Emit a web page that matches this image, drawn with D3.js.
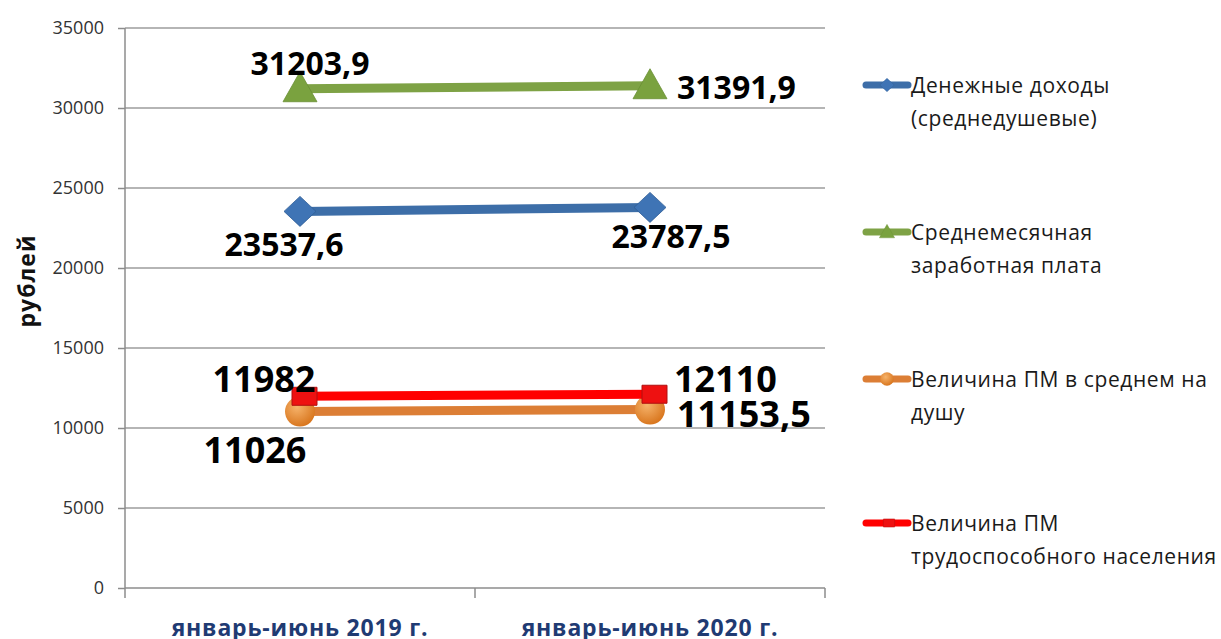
<!DOCTYPE html>
<html>
<head>
<meta charset="utf-8">
<script src="https://cdn.jsdelivr.net/npm/d3@7"></script>
<style>
  body { margin: 0; background: #fff; }
  svg { display: block; font-family: "Open Sans", sans-serif; }
</style>
</head>
<body>
<svg width="1221" height="639"></svg>
<script>
// categories on the x axis
const categories = ["январь-июнь 2019 г.", "январь-июнь 2020 г."];

// series values (рублей)
const incomeValues = [23537.6, 23787.5];
const wageValues = [31203.9, 31391.9];
const pmAvgValues = [11026, 11153.5];
const pmWorkValues = [11982, 12110];

// labels as printed on the chart
const incomeLabels = ["23537,6", "23787,5"];
const wageLabels = ["31203,9", "31391,9"];
const pmAvgLabels = ["11026", "11153,5"];
const pmWorkLabels = ["11982", "12110"];

const seriesNames = [
  ["Денежные доходы", "(среднедушевые)"],
  ["Среднемесячная", "заработная плата"],
  ["Величина ПМ в среднем на", "душу"],
  ["Величина ПМ", "трудоспособного населения"],
];

const yTicks = [0, 5000, 10000, 15000, 20000, 25000, 30000, 35000];

// drawing styles per series
const series = [
  { name: seriesNames[0], values: incomeValues, labels: incomeLabels, color: "#3d6ea8", marker: "diamond", fontSize: 32,
    labelPos: [{ dx: -16, dy: 32, anchor: "middle" }, { dx: 21, dy: 28, anchor: "middle" }] },
  { name: seriesNames[1], values: wageValues, labels: wageLabels, color: "#7ea245", marker: "triangle", fontSize: 32,
    labelPos: [{ dx: 10, dy: -26, anchor: "middle" }, { dx: 27, dy: 1, anchor: "start" }] },
  { name: seriesNames[2], values: pmAvgValues, labels: pmAvgLabels, color: "#dc7e35", marker: "circle", fontSize: 36,
    labelPos: [{ dx: -45, dy: 38, anchor: "middle" }, { dx: 27, dy: 4, anchor: "start" }] },
  { name: seriesNames[3], values: pmWorkValues, labels: pmWorkLabels, color: "#ff0000", marker: "square", fontSize: 36,
    labelPos: [{ dx: -36, dy: -18, anchor: "middle" }, { dx: 24, dy: -16, anchor: "start" }] },
];

const plot = { left: 125, right: 825, top: 28, bottom: 588 };

const svg = d3.select("svg");

const xScale = d3.scaleBand().domain(categories).range([plot.left, plot.right]).padding(0);
const xc = (i) => xScale(categories[i]) + xScale.bandwidth() / 2;
const yScale = d3.scaleLinear().domain([0, 35000]).range([plot.bottom, plot.top]);

// gradient for the round markers
const defs = svg.append("defs");
const orangeGrad = defs.append("radialGradient").attr("id", "orangeGrad")
  .attr("cx", "40%").attr("cy", "35%").attr("r", "65%");
orangeGrad.append("stop").attr("offset", "0%").attr("stop-color", "#f6b36b");
orangeGrad.append("stop").attr("offset", "100%").attr("stop-color", "#d9771f");

// gridlines
svg.append("g")
  .selectAll("line")
  .data(yTicks.filter((t) => t > 0))
  .enter()
  .append("line")
  .attr("x1", plot.left)
  .attr("x2", plot.right)
  .attr("y1", (d) => yScale(d))
  .attr("y2", (d) => yScale(d))
  .attr("stroke", "#9c9c9c")
  .attr("stroke-width", 1.5);

// y axis
const yAxis = d3.axisLeft(yScale).tickValues(yTicks).tickSize(7).tickPadding(14).tickFormat(d3.format("d"));
const yG = svg.append("g").attr("transform", `translate(${plot.left},0)`).call(yAxis);
yG.select(".domain").remove();
yG.selectAll(".tick line").attr("stroke", "#8c8c8c").attr("stroke-width", 1.5);
yG.selectAll(".tick text").attr("font-size", 18).attr("fill", "#333")
  .attr("font-family", "Open Sans, sans-serif");
svg.append("line")
  .attr("x1", plot.left).attr("x2", plot.left)
  .attr("y1", plot.top).attr("y2", plot.bottom + 10)
  .attr("stroke", "#8c8c8c").attr("stroke-width", 1.5);

// x axis
svg.append("line")
  .attr("x1", plot.left).attr("x2", plot.right)
  .attr("y1", plot.bottom).attr("y2", plot.bottom)
  .attr("stroke", "#8c8c8c").attr("stroke-width", 1.5);
svg.append("g")
  .selectAll("line")
  .data(categories)
  .enter()
  .append("line")
  .attr("x1", (d) => xScale(d) + xScale.bandwidth())
  .attr("x2", (d) => xScale(d) + xScale.bandwidth())
  .attr("y1", plot.bottom)
  .attr("y2", plot.bottom + 10)
  .attr("stroke", "#8c8c8c").attr("stroke-width", 1.5);
svg.append("g")
  .selectAll("text")
  .data(categories)
  .enter()
  .append("text")
  .attr("x", (d, i) => xc(i))
  .attr("y", 636)
  .attr("text-anchor", "middle")
  .attr("font-size", 23)
  .attr("letter-spacing", 0.8)
  .attr("font-weight", "bold")
  .attr("fill", "#1f3b73")
  .text((d) => d);

// y axis title
svg.append("text")
  .attr("transform", "translate(35,281) rotate(-90)")
  .attr("text-anchor", "middle")
  .attr("font-size", 23)
  .attr("letter-spacing", 1)
  .attr("font-weight", "bold")
  .attr("fill", "#111")
  .text("рублей");

const drawMarker = (g, type, x, y, scale) => {
  if (type === "circle") {
    g.append("circle").attr("cx", x).attr("cy", y).attr("r", 15 * scale)
      .attr("fill", "url(#orangeGrad)");
  } else if (type === "diamond") {
    g.append("path")
      .attr("d", "M0,-15 L16,0 L0,15 L-16,0 Z")
      .attr("transform", `translate(${x},${y}) scale(${scale})`)
      .attr("fill", "#3f74b5").attr("stroke", "#2f5d95").attr("stroke-width", 0.8);
  } else if (type === "triangle") {
    g.append("path").attr("d", "M0,-17 L17,13 L-17,13 Z")
      .attr("transform", `translate(${x},${y}) scale(${scale})`)
      .attr("fill", "#7aa23f").attr("stroke", "#6a8f35").attr("stroke-width", 0.8);
  } else {
    g.append("path").attr("d", "M-12,-9 L13,-9 L13,9 L-12,9 Z")
      .attr("transform", `translate(${x + 4 * scale},${y}) scale(${scale})`)
      .attr("fill", "#ee1111").attr("stroke", "#b01010").attr("stroke-width", 1);
  }
};

const line = d3.line().x((d, i) => xc(i)).y((d) => yScale(d));

// series lines + markers
series.forEach((s) => {
  const g = svg.append("g");
  g.append("path")
    .datum(s.values)
    .attr("d", line)
    .attr("fill", "none")
    .attr("stroke", s.color)
    .attr("stroke-width", 9);
  s.values.forEach((v, i) => drawMarker(g, s.marker, xc(i), yScale(v), 1));
});

// data labels
series.forEach((s) => {
  svg.append("g")
    .selectAll("text")
    .data(s.values)
    .enter()
    .append("text")
    .attr("x", (d, i) => xc(i) + s.labelPos[i].dx)
    .attr("y", (d, i) => yScale(d) + s.labelPos[i].dy)
    .attr("dominant-baseline", "central")
    .attr("text-anchor", (d, i) => s.labelPos[i].anchor)
    .attr("font-size", s.fontSize)
    .attr("font-weight", "bold")
    .attr("fill", "#000")
    .text((d, i) => s.labels[i]);
});

// legend
const legendRows = [85, 232, 379, 523];
series.forEach((s, i) => {
  const g = svg.append("g").attr("transform", `translate(0,${legendRows[i]})`);
  g.append("line")
    .attr("x1", 866).attr("x2", 908).attr("y1", 0).attr("y2", 0)
    .attr("stroke", s.color).attr("stroke-width", 7).attr("stroke-linecap", "round");
  drawMarker(g, s.marker, 887, 0, 0.45);
  g.append("text")
    .attr("x", 911)
    .attr("y", 0)
    .attr("dominant-baseline", "central")
    .attr("font-size", 21)
    .attr("letter-spacing", 0.6)
    .attr("fill", "#1a1a1a")
    .selectAll("tspan")
    .data(s.name)
    .enter()
    .append("tspan")
    .attr("x", 911)
    .attr("dy", (d, j) => (j === 0 ? 0 : 33))
    .text((d) => d);
});
</script>
</body>
</html>
